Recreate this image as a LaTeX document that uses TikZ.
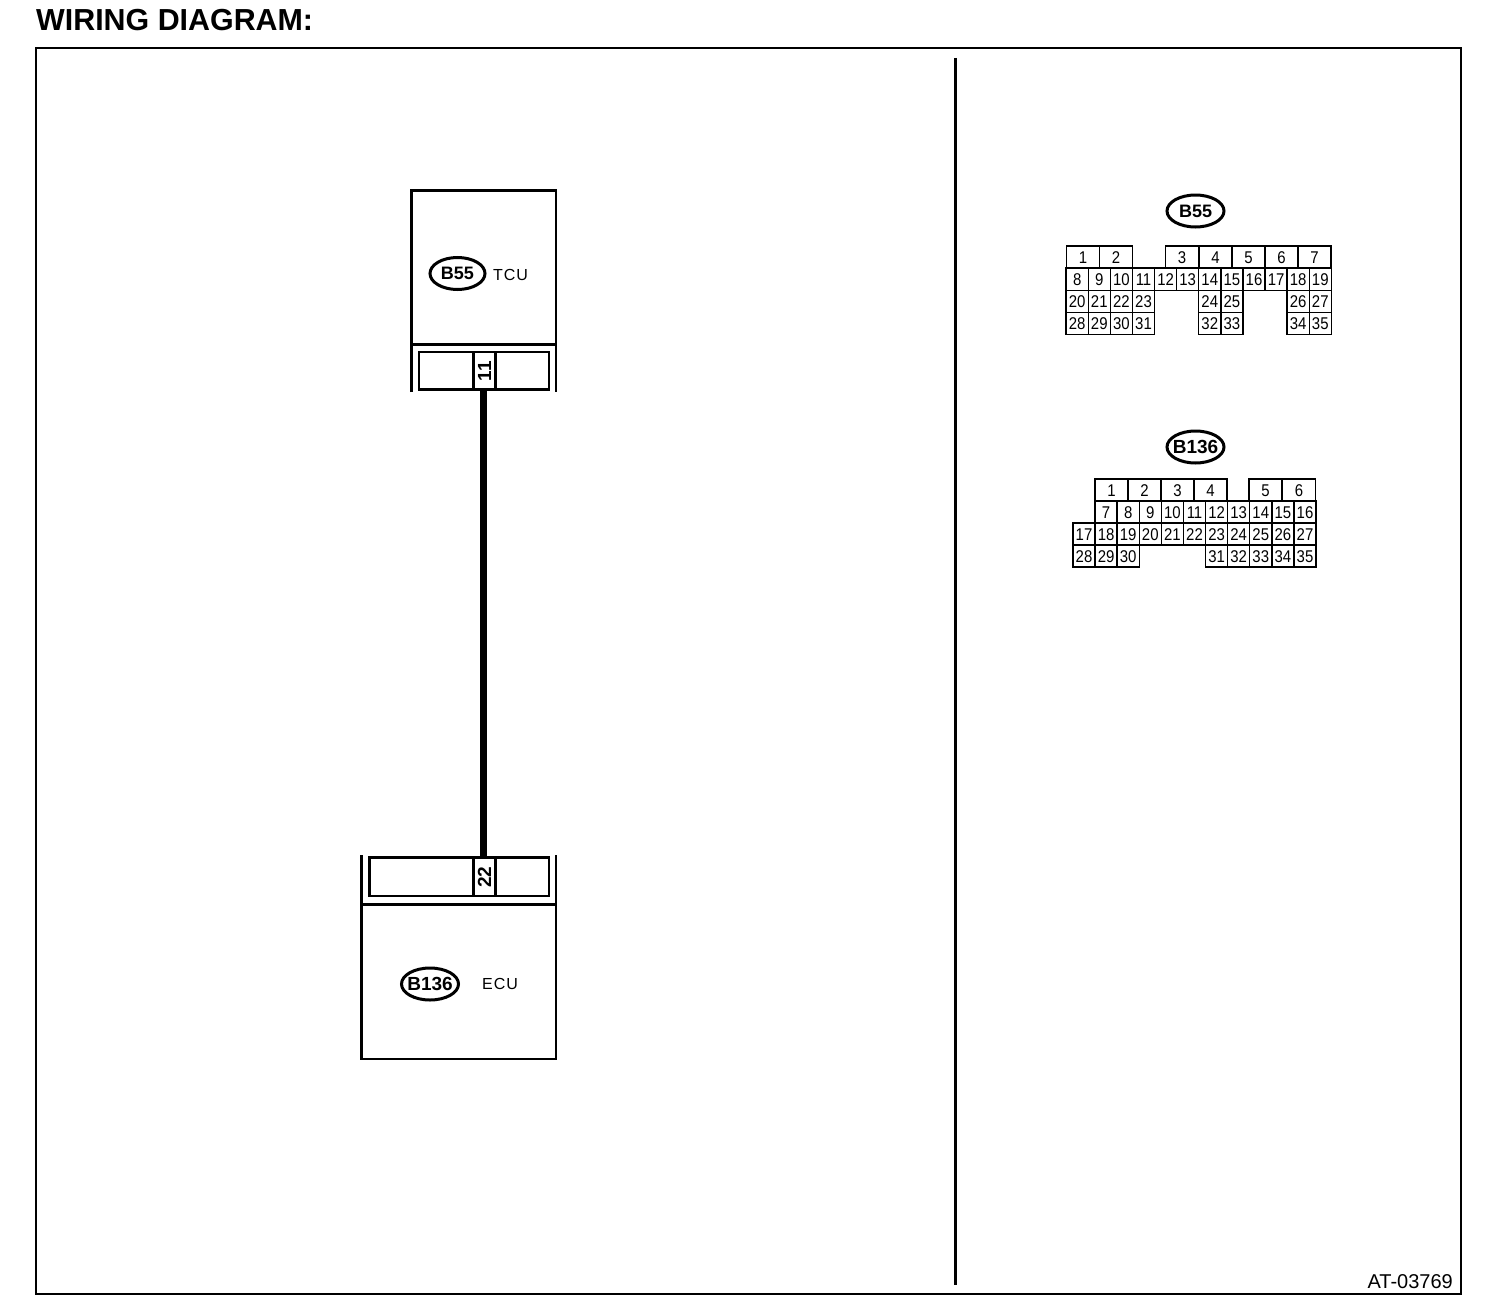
\documentclass[tikz,border=0pt]{standalone}
\usepackage{fontspec}
\setmainfont{Liberation Sans}
\newfontfamily\pinfont[FakeStretch=0.88]{Liberation Sans}
\newfontfamily\spacedfont[LetterSpace=6]{Liberation Sans}
\usetikzlibrary{calc,positioning,shapes.geometric}
\tikzset{
  pincell/.style={draw,line width=1.4pt,minimum width=22.1pt,minimum height=22.2pt,inner sep=0pt,text height=12pt,text depth=0pt,font=\pinfont\fontsize{17}{17}\selectfont},
  widepin/.style={pincell,minimum width=33.2pt},
  tag/.style={draw,ellipse,line width=3pt,inner sep=-6pt,minimum width=55pt,minimum height=32pt,font=\bfseries\fontsize{18}{18}\selectfont},
  bigtag/.style={tag,minimum width=57pt,font=\bfseries\fontsize{19}{19}\selectfont},
  unit/.style={line width=2.4pt},
  txt/.style={inner sep=0pt,font=\spacedfont\fontsize{16}{16}\selectfont},
  pinno/.style={inner sep=0pt,rotate=90,font=\bfseries\fontsize{19}{19}\selectfont},
}
\begin{document}
\begin{tikzpicture}[x=1pt,y=-1pt]
\useasboundingbox (0,0) rectangle (1504,1314);
\node[anchor=base west,inner sep=0pt,font=\bfseries\fontsize{30.4}{30.4}\selectfont](title)at(36,31){WIRING DIAGRAM:};
\draw[line width=2pt](36,48)rectangle(1461,1294);
\draw[line width=3pt](955,58)--(955,1285);
\node[anchor=base east,inner sep=0pt,font=\fontsize{20}{20}\selectfont](code)at(1453,1288){AT-03769};
% TCU
\draw[unit](411.5,392)--(411.5,190.5)--(556,190.5)--(556,392);
\draw[unit](411.5,344.5)--(556,344.5);
\draw[unit](419,352)rectangle(549,389.5);
\draw[unit](473.5,352)--(473.5,389.5);
\draw[unit](495.5,352)--(495.5,389.5);
\node[tag](tagtcu)at(457.5,273.5){B55};
\node[txt,anchor=west](tcu)at(493,275){TCU};
\node[pinno](pina)at(484.5,371){11};
% ECU
\draw[unit](361.5,855)--(361.5,1059)--(556,1059)--(556,855);
\draw[unit](361.5,904.5)--(556,904.5);
\draw[unit](369.5,857.5)rectangle(549,896);
\draw[unit](473.5,857.5)--(473.5,896);
\draw[unit](495.5,857.5)--(495.5,896);
\node[bigtag](tagecu)at(430,984){B136};
\node[txt,anchor=west](ecu)at(482,984){ECU};
\node[pinno](pinb)at(484.5,877){22};
% wire
\coordinate(wa)at(483.5,390);
\coordinate(wb)at(483.5,857);
\draw[line width=7pt](wa)--(wb);
% B55 connector
\node[tag,minimum width=57pt](tagb)at(1195.5,211){B55};
\foreach \n/\cx in {1/1083,2/1116,3/1182,4/1215.5,5/1248.5,6/1281.5,7/1314.5}
  \node[widepin](ba\n)at(\cx,257){\n};
\foreach \n/\c in {8/0,9/1,10/2,11/3,12/4,13/5,14/6,15/7,16/8,17/9,18/10,19/11}
  \node[pincell](bb\n)at(1077.2+22.1*\c,279.2){\n};
\foreach \n/\c in {20/0,21/1,22/2,23/3,24/6,25/7,26/10,27/11}
  \node[pincell](bc\n)at(1077.2+22.1*\c,301.4){\n};
\foreach \n/\c in {28/0,29/1,30/2,31/3,32/6,33/7,34/10,35/11}
  \node[pincell](bd\n)at(1077.2+22.1*\c,323.6){\n};
% B136 connector
\node[bigtag](tagc)at(1195.5,447){B136};
\foreach \n/\cx in {1/1111.5,2/1144.5,3/1177.5,4/1210.5,5/1265.5,6/1299}
  \node[widepin](ca\n)at(\cx,490){\n};
\foreach \n/\c in {7/1,8/2,9/3,10/4,11/5,12/6,13/7,14/8,15/9,16/10}
  \node[pincell](cb\n)at(1084+22.1*\c,512){\n};
\foreach \n/\c in {17/0,18/1,19/2,20/3,21/4,22/5,23/6,24/7,25/8,26/9,27/10}
  \node[pincell](cc\n)at(1084+22.1*\c,534){\n};
\foreach \n/\c in {28/0,29/1,30/2,31/6,32/7,33/8,34/9,35/10}
  \node[pincell](cd\n)at(1084+22.1*\c,556){\n};
\end{tikzpicture}
\end{document}
